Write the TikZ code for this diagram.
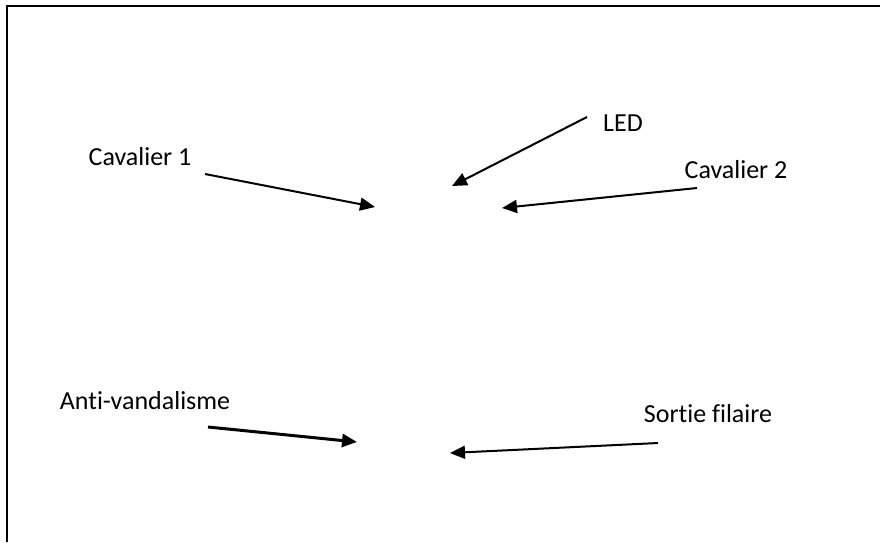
\documentclass[tikz,border=0pt]{standalone}
\usepackage{fontspec}
\setmainfont{Carlito}[RawFeature={-liga;-clig;-dlig}]
\usepackage{tikz}
\usetikzlibrary{arrows.meta}

\begin{document}
\begin{tikzpicture}[x=1pt,y=-1pt]
	\tikzstyle{lbl}=[inner sep=0pt,font=\fontsize{26}{30}\selectfont]
	\tikzstyle{pointer}=[line width=2pt,-{Triangle[length=15pt,width=13pt]}]

	\useasboundingbox (0,0) rectangle (880,542);
	\draw[line width=2pt] (7,542) -- (7,6) -- (880,6);

	\node[lbl](cav1) at (140,157){Cavalier 1};
	\node[lbl](led) at (623,123){LED};
	\node[lbl](cav2) at (736,170){Cavalier 2};
	\node[lbl](anti) at (145,401){Anti-vandalisme};
	\node[lbl](sortie) at (708,414){Sortie filaire};

	\coordinate (cav1s) at (205,174);
	\coordinate (cav1t) at (375,207);
	\coordinate (leds) at (587,117);
	\coordinate (ledt) at (452,186);
	\coordinate (cav2s) at (697,188);
	\coordinate (cav2t) at (502,208);
	\coordinate (antis) at (208,427);
	\coordinate (antit) at (357,442);
	\coordinate (sorties) at (658,443);
	\coordinate (sortiet) at (450,453);

	\draw[pointer] (cav1s) -- (cav1t);
	\draw[pointer] (leds) -- (ledt);
	\draw[pointer] (cav2s) -- (cav2t);
	\draw[pointer,line width=3pt] (antis) -- (antit);
	\draw[pointer] (sorties) -- (sortiet);

\end{tikzpicture}
\end{document}
